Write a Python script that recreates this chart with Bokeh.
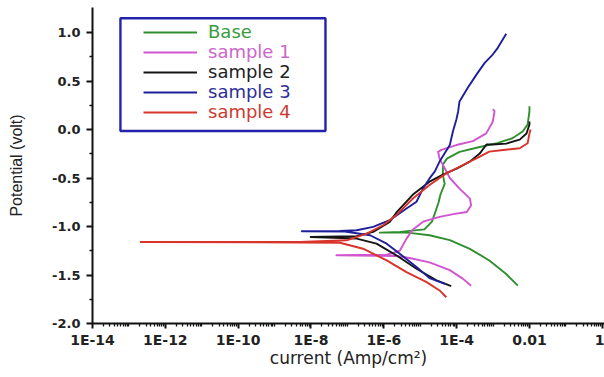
from bokeh.plotting import figure
from bokeh.models import (FixedTicker, CustomJSTickFormatter, PrintfTickFormatter,
                          Legend, LegendItem, BoxAnnotation, Range1d)
from bokeh.embed import file_html
from bokeh.resources import INLINE

# ---------------- data (current in A/cm^2, potential in V) ----------------
base_current = [4.8e-3, 2.3e-3, 7.9e-4, 2.3e-4, 6.5e-5, 1.8e-5, 5.1e-6, 2.8e-6, 7.8e-7,
                2.8e-6, 1.3e-5, 2.1e-5, 2.6e-5, 3.2e-5, 3.6e-5, 4.7e-5, 4.2e-5, 4.2e-5,
                5.4e-5, 1.2e-4, 4.3e-4, 1.3e-3, 3.4e-3, 6.5e-3, 8.9e-3, 1.0e-2, 1.0e-2]
base_potential = [-1.61, -1.49, -1.35, -1.23, -1.14, -1.09, -1.066, -1.061, -1.063,
                  -1.055, -1.03, -0.95, -0.85, -0.75, -0.67, -0.56, -0.47, -0.36,
                  -0.30, -0.23, -0.18, -0.14, -0.09, -0.02, 0.05, 0.19, 0.24]

s1_current = [2.5e-4, 1.5e-4, 6.5e-5, 1.8e-5, 5.1e-6, 2.3e-6, 5.0e-8, 1.2e-6, 2.2e-6, 2.8e-6,
              4.2e-6, 6.3e-6, 1.2e-5, 3.4e-5, 8.8e-5, 1.9e-4, 2.5e-4, 2.3e-4, 1.2e-4, 6.5e-5,
              4.7e-5, 3.4e-5, 3.1e-5, 3.8e-5, 9.8e-5, 2.8e-4, 6.5e-4, 9.8e-4, 1.1e-3, 9.8e-4]
s1_potential = [-1.61, -1.54, -1.45, -1.37, -1.325, -1.304, -1.297, -1.291, -1.263, -1.245,
                -1.125, -1.03, -0.95, -0.90, -0.87, -0.85, -0.78, -0.71, -0.61, -0.50,
                -0.40, -0.30, -0.23, -0.21, -0.16, -0.12, -0.04, 0.08, 0.19, 0.21]

s2_current = [7.1e-5, 2.8e-5, 7.9e-6, 2.2e-6, 6.3e-7, 1.8e-7, 9.8e-9, 1.8e-7, 5.1e-7, 1.45e-6,
              2.3e-6, 6.2e-6, 1.8e-5, 4.2e-5, 1.0e-4, 2.3e-4, 4.3e-4, 6.6e-4, 9.8e-4, 2.3e-3,
              5.4e-3, 8.3e-3, 1.0e-2, 1.0e-2]
s2_potential = [-1.615, -1.556, -1.436, -1.297, -1.177, -1.125, -1.108, -1.100, -1.056, -0.952,
                -0.849, -0.673, -0.538, -0.466, -0.404, -0.331, -0.248, -0.155, -0.155, -0.145,
                -0.104, -0.041, 0.052, 0.083]

s3_current = [5.0e-5, 1.8e-5, 7.9e-6, 2.8e-6, 1.2e-6, 4.2e-7, 8.5e-8, 5.6e-9, 6.2e-8, 1.8e-7,
              5.1e-7, 1.45e-6, 4.2e-6, 7.9e-6, 1.2e-5, 1.8e-5, 2.5e-5, 3.4e-5, 4.7e-5, 6.5e-5,
              7.9e-5, 9.8e-5, 1.1e-4, 1.2e-4, 2.0e-4, 3.5e-4, 5.9e-4, 9.8e-4, 1.35e-3, 2.3e-3]
s3_potential = [-1.594, -1.532, -1.418, -1.284, -1.177, -1.090, -1.051, -1.049, -1.046, -1.038,
                -1.004, -0.935, -0.815, -0.745, -0.607, -0.504, -0.435, -0.331, -0.245, -0.159,
                -0.021, 0.100, 0.186, 0.290, 0.428, 0.566, 0.687, 0.773, 0.842, 0.987]

s4_current = [5.2e-5, 3.4e-5, 1.5e-5, 4.2e-6, 1.2e-6, 2.7e-7, 6.2e-8, 5.0e-9, 2.1e-13, 5.0e-9,
              9.5e-8, 3.4e-7, 9.5e-7, 2.2e-6, 6.3e-6, 1.8e-5, 5.2e-5, 1.5e-4, 3.5e-4, 7.9e-4,
              1.9e-3, 5.4e-3, 8.9e-3, 1.0e-2, 1.07e-2]
s4_potential = [-1.729, -1.659, -1.573, -1.470, -1.349, -1.229, -1.167, -1.165, -1.159, -1.160,
                -1.142, -1.073, -0.987, -0.883, -0.711, -0.573, -0.452, -0.366, -0.297, -0.228,
                -0.211, -0.193, -0.142, -0.041, 0.0]

series_names = ["Base", "sample 1", "sample 2", "sample 3", "sample 4"]
line_colors = ["#2f8f2f", "#d155d1", "#141414", "#1f1f9a", "#d8342b"]
text_colors = ["#3c9b40", "#cc66cc", "#222222", "#2e2e99", "#cc3b30"]

x_tick_values = [1e-14, 1e-12, 1e-10, 1e-8, 1e-6, 1e-4, 1e-2, 1.0]
x_tick_labels = ["1E-14", "1E-12", "1E-10", "1E-8", "1E-6", "1E-4", "0.01", "1"]
y_tick_values = [-2.0, -1.5, -1.0, -0.5, 0.0, 0.5, 1.0]
y_minor_values = [-1.75, -1.25, -0.75, -0.25, 0.25, 0.75]

# ---------------- figure ----------------
p = figure(width=604, height=377, x_axis_type="log",
           x_range=Range1d(1e-14, 1.15), y_range=Range1d(-2.0, 1.258),
           output_backend="svg", toolbar_location=None,
           min_border_left=92, min_border_right=0, min_border_top=7, min_border_bottom=54)
p.outline_line_color = None
p.xgrid.visible = False
p.ygrid.visible = False
p.background_fill_color = "white"

x_minor = [k * 10.0 ** n for n in range(-14, 1) for k in range(2, 10)]
x_minor += [10.0 ** n for n in range(-13, 0, 2)]
p.xaxis.ticker = FixedTicker(ticks=x_tick_values, minor_ticks=x_minor)
p.xaxis.formatter = CustomJSTickFormatter(
    args=dict(vals=x_tick_values, labels=x_tick_labels),
    code="""
const e = Math.round(Math.log10(tick));
for (let i = 0; i < vals.length; i++) {
  if (Math.round(Math.log10(vals[i])) == e) return labels[i];
}
return "";
""")
p.yaxis.ticker = FixedTicker(ticks=y_tick_values, minor_ticks=y_minor_values)
p.yaxis.formatter = PrintfTickFormatter(format="%.1f")

for ax in (p.xaxis, p.yaxis):
    ax.axis_line_width = 2
    ax.axis_line_color = "#111111"
    ax.major_tick_line_width = 2
    ax.minor_tick_line_width = 1.3
    ax.major_tick_line_color = "#111111"
    ax.minor_tick_line_color = "#111111"
    ax.major_tick_in = 0
    ax.minor_tick_in = 0
    ax.major_label_text_font = "DejaVu Sans"
    ax.major_label_text_font_style = "bold"
    ax.major_label_text_color = "#222222"
    ax.axis_label_text_font_style = "normal"
    ax.axis_label_text_color = "#222222"

p.xaxis.major_tick_out = 5
p.xaxis.minor_tick_out = 3
p.xaxis.major_label_standoff = 3
p.xaxis.major_label_text_font_size = "14px"
p.xaxis.axis_label = "current (Amp/cm²)"
p.xaxis.axis_label_text_font = "DejaVu Sans"
p.xaxis.axis_label_text_font_size = "17px"
p.xaxis.axis_label_standoff = -3

p.yaxis.major_tick_out = 6
p.yaxis.minor_tick_out = 3
p.yaxis.major_label_standoff = 6
p.yaxis.major_label_text_font_size = "13px"
p.yaxis.axis_label = "Potential (volt)"
p.yaxis.axis_label_text_font = "Liberation Sans"
p.yaxis.axis_label_text_font_size = "16px"
p.yaxis.axis_label_standoff = 24

currents = [base_current, s1_current, s2_current, s3_current, s4_current]
potentials = [base_potential, s1_potential, s2_potential, s3_potential, s4_potential]
renderers = []
for cur, pot, col in zip(currents, potentials, line_colors):
    r = p.line(cur, pot, line_color=col, line_width=1.9, line_join="round")
    renderers.append(r)

# legend frame
p.add_layout(BoxAnnotation(left=5.85e-14, right=2.5e-8, top=1.147, bottom=-0.015,
                           fill_alpha=0, line_alpha=1.0, line_color="#2222aa", line_width=2.4))

for i, (name, r, tc) in enumerate(zip(series_names, renderers, text_colors)):
    lg = Legend(items=[LegendItem(label=name, renderers=[r])],
                location=(51, 281 - 20 * i), orientation="vertical",
                border_line_color=None, background_fill_alpha=0,
                padding=0, margin=0, spacing=0,
                glyph_width=54, glyph_height=20, label_height=20, label_standoff=11,
                label_text_font="DejaVu Sans", label_text_font_size="18px",
                label_text_color=tc)
    p.add_layout(lg)

open("out.html", "w").write(file_html(p, INLINE))
